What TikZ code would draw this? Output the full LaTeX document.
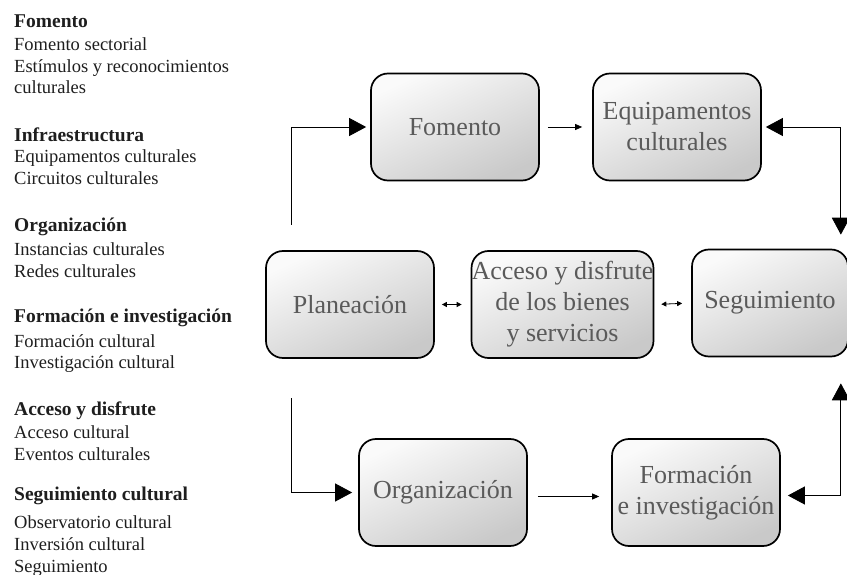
\documentclass[tikz,border=0pt]{standalone}
\usepackage{fontspec}
\setmainfont{Liberation Serif}
\usetikzlibrary{arrows.meta,calc}
\definecolor{boxtext}{HTML}{5A5A5A}
\definecolor{listtext}{HTML}{1E1E1E}
\tikzset{
  stage/.style={draw=black, line width=1.7pt, rounded corners=17pt,
    shading=axis, top color=black!2, bottom color=black!21, shading angle=25,
    minimum width=168pt, minimum height=107pt, align=center,
    inner sep=0pt, text=boxtext, font=\fontsize{26}{31}\selectfont},
  thin link/.style={line width=0.8pt, -{Triangle[length=7pt,width=6pt]}},
  thin both/.style={line width=0.8pt, {Triangle[length=5pt,width=5pt]}-{Triangle[length=5pt,width=5pt]}},
  big link/.style={line width=0.8pt, -{Triangle[length=17pt,width=18pt]}},
  big both/.style={line width=0.8pt, {Triangle[length=17pt,width=18pt]}-{Triangle[length=17pt,width=18pt]}},
  head/.style={anchor=base west, inner sep=0pt, text=listtext, font=\fontsize{19.5}{22}\selectfont\bfseries},
  item/.style={anchor=base west, inner sep=0pt, text=listtext, font=\fontsize{18.5}{22}\selectfont},
}
\begin{document}
\begin{tikzpicture}[x=1pt,y=-1pt]
\useasboundingbox (0,0) rectangle (847,575);

% list of programme lines
\foreach \n/\y/\t/\s in {
  h1/28/Fomento/head, a1/51/Fomento sectorial/item,
  a2/73/Estímulos y reconocimientos/item, a3/94/culturales/item,
  h2/142/Infraestructura/head, b1/163/Equipamentos culturales/item,
  b2/185/Circuitos culturales/item,
  h3/232/Organización/head, c1/255/Instancias culturales/item,
  c2/277/Redes culturales/item,
  h4/322/Formación e investigación/head, d1/347/Formación cultural/item,
  d2/368/Investigación cultural/item,
  h5/415/Acceso y disfrute/head, e1/438/Acceso cultural/item,
  e2/460/Eventos culturales/item,
  h6/500/Seguimiento cultural/head, f1/528/Observatorio cultural/item,
  f2/550/Inversión cultural/item, f3/572/Seguimiento/item}
  \node[\s] (\n) at (14,\y) {\t};

% stages
\node[stage] (fom) at (455,127) {Fomento};
\node[stage] (eq)  at (677,127) {Equipamentos\\culturales};
\node[stage] (pl)  at (350,304.5) {Planeación};
\node[stage] (ac)  at (562.5,304.5) {Acceso y disfrute\\de los bienes\\y servicios};
\node[stage, minimum width=156pt] (seg) at (770,303) {Seguimiento};
\node[stage] (org) at (443,492.5) {Organización};
\node[stage] (fi)  at (696,492.5) {Formación\\e investigación};

% free ends of the planning branches
\coordinate (up)   at (291,225);
\coordinate (down) at (291,398);

% connectors
\draw[big link, shorten >=4pt] (up) |- (fom.west);
\draw[thin link, shorten <=8pt, shorten >=10pt] (fom.east) -- (eq.west);
\draw[big both, shorten <=4pt, shorten >=14pt] (eq.east) -| ([xshift=-8pt]seg.north east);
\draw[thin both, shorten <=7pt, shorten >=9pt] (pl.east) -- (ac.west);
\draw[thin both, shorten <=7pt, shorten >=9pt] (ac.east) -- (seg.west);
\draw[big link, shorten >=6pt] (down) |- (org.west);
\draw[thin link, shorten <=10pt, shorten >=12pt] ([yshift=-4pt]org.east) -- ([yshift=-4pt]fi.west);
\draw[big both, shorten <=7pt, shorten >=26pt] ([yshift=-3pt]fi.east) -| ([xshift=-8pt]seg.south east);
\end{tikzpicture}
\end{document}
